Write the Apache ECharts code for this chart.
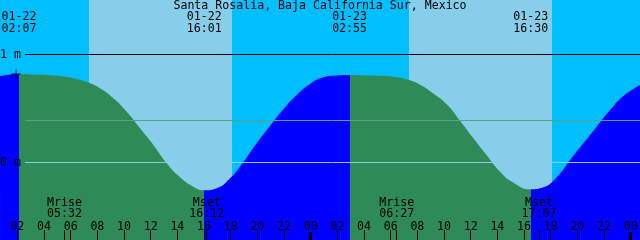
<!DOCTYPE html>
<html>
<head>
<meta charset="utf-8">
<script src="https://cdn.jsdelivr.net/npm/echarts@6/dist/echarts.min.js"></script>
<style>
  html, body { margin: 0; padding: 0; background: #00BFFF; }
  #chart { width: 640px; height: 240px; }
</style>
</head>
<body>
<div id="chart"></div>
<script>
// hours counted from 01-22 00:00, heights in metres
const tideHours = [0.70, 2.12, 3.20, 4.20, 5.20, 6.20, 7.20, 8.20, 9.20, 10.20, 11.20, 12.20, 13.20, 14.20, 15.20, 16.02, 16.95, 17.95, 18.95, 19.95, 20.95, 21.95, 22.95, 23.95, 24.95, 25.95, 26.92, 28.20, 29.20, 30.20, 31.20, 32.20, 33.20, 34.20, 35.20, 36.20, 37.20, 38.20, 39.20, 40.50, 41.45, 42.45, 43.45, 44.45, 45.45, 46.45, 47.45, 48.70]
const tideHeights = [0.80, 0.82, 0.815, 0.81, 0.80, 0.78, 0.745, 0.687, 0.594, 0.47, 0.316, 0.162, -0.008, -0.137, -0.224, -0.258, -0.239, -0.147, 0.005, 0.178, 0.338, 0.492, 0.625, 0.727, 0.789, 0.805, 0.81, 0.806, 0.804, 0.795, 0.77, 0.721, 0.64, 0.539, 0.387, 0.224, 0.067, -0.085, -0.187, -0.248, -0.23, -0.137, 0.023, 0.178, 0.332, 0.486, 0.616, 0.718]

// high / low water
const eventHours = [2.117, 16.017, 26.917, 40.5]
const eventLabels = ['01-22\n02:07', '01-22\n16:01', '01-23\n02:55', '01-23\n16:30']

const moonHours = [5.533, 16.2, 30.45, 41.117]
const moonLabels = ['Mrise\n05:32', 'Mset\n16:12', 'Mrise\n06:27', 'Mset\n17:07']

const sunriseHours = [7.37, 31.37]
const sunsetHours = [18.10, 42.10]

const hourTicks = [2, 4, 6, 8, 10, 12, 14, 16, 18, 20, 22, 26, 28, 30, 32, 34, 36, 38, 40, 42, 44, 46]
const midnightTicks = [24, 48]

const levels = [1, 0.389, 0]
const levelLabels = ['1 m', '', '0 m']
const nowMark = [1.9, 0.82]

const title = 'Santa Rosalia, Baja California Sur, Mexico'

const tMin = 0.6975
const tMax = 48.6975
const levelStart = 2.57

const colors = {
  night: '#00BFFF',
  day: '#87CEEB',
  rise: '#0000FF',
  fall: '#2E8B57',
  levels: ['#000000', '#5F9E8A', '#87CEEB']
}
const font = { fontFamily: 'DejaVu Sans Mono', fontSize: 11.6, color: '#000' }

const pad = (n) => (n < 10 ? '0' : '') + n

// rising water blue, falling water green
const pieces = []
eventHours.forEach((h, i) => {
  const p = { lt: h, color: i % 2 === 0 ? colors.rise : colors.fall }
  if (i > 0) p.gte = eventHours[i - 1]
  pieces.push(p)
})
pieces.push({ gte: eventHours[eventHours.length - 1], color: colors.rise })

const baseX = {
  type: 'value', min: tMin, max: tMax, z: 10,
  axisLine: { show: false, onZero: false },
  splitLine: { show: false }
}

const chart = echarts.init(document.getElementById('chart'))
chart.setOption({
  animation: false,
  backgroundColor: colors.night,
  title: {
    text: title,
    left: 'center',
    top: 0,
    padding: 0,
    textStyle: { ...font, fontWeight: 'normal', lineHeight: 12 }
  },
  grid: { left: 0, right: 0, top: 0, bottom: 0, containLabel: false, outerBoundsMode: 'none' },
  xAxis: [
    {
      ...baseX,
      position: 'bottom',
      axisTick: { inside: true, length: 10, customValues: hourTicks, lineStyle: { color: '#000', width: 1 } },
      axisLabel: {
        inside: true, margin: 7, ...font,
        customValues: hourTicks.concat(midnightTicks),
        formatter: (v) => pad(Math.round(v) % 24)
      }
    },
    {
      ...baseX,
      position: 'bottom',
      axisTick: { inside: true, length: 8, customValues: midnightTicks, lineStyle: { color: '#000', width: 3 } },
      axisLabel: { show: false }
    },
    {
      ...baseX,
      position: 'bottom',
      axisTick: { inside: true, length: 10, customValues: moonHours, lineStyle: { color: '#000', width: 1 } },
      axisLabel: {
        inside: true, margin: 20, ...font, lineHeight: 11.5,
        customValues: moonHours,
        formatter: (v) => moonLabels[moonHours.indexOf(v)]
      }
    },
    {
      ...baseX,
      position: 'top',
      axisTick: { show: false },
      axisLabel: {
        inside: true, margin: 11, ...font, lineHeight: 12,
        customValues: eventHours,
        formatter: (v) => eventLabels[eventHours.indexOf(v)]
      }
    }
  ],
  yAxis: { type: 'value', min: -0.7176, max: 1.5046, show: false },
  visualMap: { type: 'piecewise', show: false, dimension: 0, seriesIndex: 1, pieces: pieces },
  series: [
    {
      // day / night background
      type: 'line',
      z: 1,
      data: [],
      markArea: {
        silent: true,
        itemStyle: { color: colors.day },
        data: sunriseHours.map((r, i) => [{ xAxis: r }, { xAxis: sunsetHours[i] }])
      }
    },
    {
      type: 'line',
      z: 2,
      smooth: 0.5,
      symbol: 'none',
      lineStyle: { width: 0 },
      areaStyle: { opacity: 1, origin: 'start' },
      data: tideHours.map((t, i) => [t, tideHeights[i]])
    },
    {
      type: 'line',
      z: 3,
      data: [],
      markLine: {
        silent: true,
        symbol: 'none',
        data: levels.map((v, i) => [
          {
            coord: [levelStart, v],
            lineStyle: { color: colors.levels[i], width: 1, type: 'solid' },
            label: { show: levelLabels[i] !== '', position: 'start', distance: 4, formatter: levelLabels[i], ...font }
          },
          { coord: [tMax, v] }
        ])
      }
    },
    {
      type: 'scatter',
      z: 4,
      symbol: 'path://M0,5L10,5M5,0L5,10',
      symbolSize: 9,
      itemStyle: { color: 'none', borderColor: '#000', borderWidth: 1 },
      data: [nowMark]
    }
  ]
})
</script>
</body>
</html>
